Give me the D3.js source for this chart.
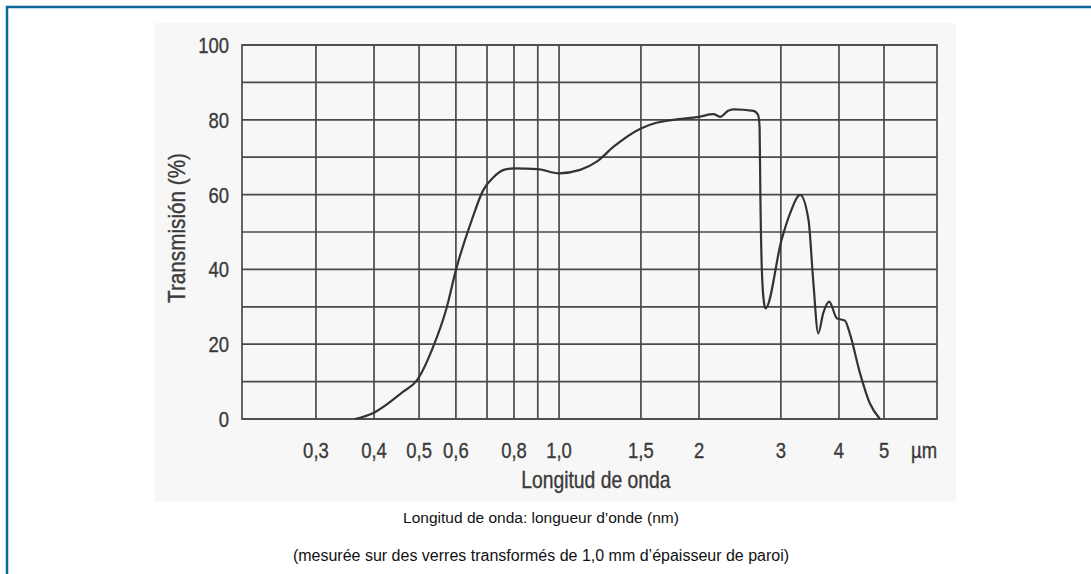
<!DOCTYPE html>
<html>
<head>
<meta charset="utf-8">
<script src="https://cdn.jsdelivr.net/npm/d3@7"></script>
<style>
  body { margin: 0; background: #fff; }
  .narrow { font-family: "Liberation Sans", Arial, sans-serif; fill: #3a3a3a; stroke: #3a3a3a; stroke-width: 0.35px; }
  .caption { font-family: "Liberation Sans", Arial, sans-serif; fill: #111; }
</style>
</head>
<body>
<svg id="viz-container" width="1091" height="574"></svg>
<script>
// transmission curve (wavelength in µm, transmission in %)
var wavelength = [0.364, 0.40, 0.462, 0.495, 0.536, 0.573, 0.60, 0.649, 0.687, 0.721, 0.76, 0.80,
                  0.90, 1.0, 1.11, 1.205, 1.31, 1.5, 1.62, 1.76, 2.0, 2.15, 2.22, 2.31, 2.37, 2.62,
                  2.68, 2.70, 2.71, 2.73, 2.76, 2.78, 3.01, 3.14, 3.30, 3.44, 3.52, 3.61, 3.70,
                  3.81, 3.96, 4.12, 4.22, 4.44, 4.66, 4.90];
var transmission = [0, 1.7, 7.3, 10.4, 19.3, 29.7, 39.8, 53.2, 61.2, 64.5, 66.6, 67.0,
                    66.8, 65.7, 66.6, 68.8, 72.8, 77.7, 79.2, 80.0, 80.8, 81.5, 80.8, 82.4, 82.8, 82.4,
                    81.3, 78, 60, 40, 31, 29.6, 47.9, 55, 59.9, 53.2, 37.2, 22.9, 28.3,
                    31.4, 26.9, 26.3, 22.9, 12.2, 4.2, 0];

var gridX = [0.3, 0.4, 0.5, 0.6, 0.7, 0.8, 0.9, 1.0, 1.5, 2, 3, 4, 5];
var tickX = [0.3, 0.4, 0.5, 0.6, 0.8, 1.0, 1.5, 2, 3, 4, 5];
var gridY = [0, 10, 20, 30, 40, 50, 60, 70, 80, 90, 100];
var tickY = [0, 20, 40, 60, 80, 100];

var svg = d3.select("#viz-container");

// blue frame (runs off the right and bottom of the page)
svg.append("rect")
    .attr("x", 7).attr("y", 7)
    .attr("width", 1200).attr("height", 700)
    .attr("fill", "none")
    .attr("stroke", "#0b6899")
    .attr("stroke-width", 2.5);

// scanned chart panel
svg.append("rect")
    .attr("x", 155).attr("y", 23)
    .attr("width", 801).attr("height", 479)
    .attr("fill", "#f7f7f7");

var margin = {left: 242, top: 45}
  , width = 695
  , height = 374
  , squeeze = 0.84;   // condensed look of the scanned lettering

var x = d3.scaleLog().domain([0.208, 6.5]).range([0, width]);
var y = d3.scaleLinear().domain([0, 100]).range([height, 0]);

var g = svg.append("g")
    .attr("transform", "translate(" + margin.left + "," + margin.top + ")");

var fmt = function(d){ return d < 1 ? d3.format(".1f")(d).replace(".", ",")
                              : (d == 1 ? "1,0" : (d == 1.5 ? "1,5" : String(d))); };

// condensed text helper
function label(parent, px, py, txt, size, anchor, rot) {
  return parent.append("text")
      .attr("class", "narrow")
      .attr("transform", "translate(" + px + "," + py + ")" + (rot ? " rotate(" + rot + ")" : "") +
                         " scale(" + squeeze + ",1)")
      .attr("text-anchor", anchor)
      .style("font-size", size + "px")
      .text(txt);
}

// grid
g.selectAll(".hgrid").data(gridY).enter().append("line")
    .attr("x1", 0).attr("x2", width)
    .attr("y1", function(d){ return y(d); }).attr("y2", function(d){ return y(d); })
    .attr("stroke", "#4a4a4a").attr("stroke-width", 1.7);

g.selectAll(".vgrid").data(gridX).enter().append("line")
    .attr("x1", function(d){ return x(d); }).attr("x2", function(d){ return x(d); })
    .attr("y1", 0).attr("y2", height)
    .attr("stroke", "#4a4a4a").attr("stroke-width", 1.7);

g.append("rect")
    .attr("width", width).attr("height", height)
    .attr("fill", "none")
    .attr("stroke", "#4a4a4a").attr("stroke-width", 1.7);

// tick labels
tickY.forEach(function(d){
  label(g, -13, y(d) + 8, d, 22, "end");
});
tickX.forEach(function(d){
  label(g, x(d), height + 39, fmt(d), 22, "middle");
});
label(g, x(5) + 40, height + 39, "µm", 22, "middle");

// axis titles
label(g, x(1.2), height + 69, "Longitud de onda", 23, "middle");
squeeze = 0.9;
label(svg, 185, 228, "Transmisión (%)", 23, "middle", -90);

// curve
var pts = wavelength.map(function(w, i){ return [w, transmission[i]]; });
var line = d3.line()
    .x(function(d){ return x(d[0]); })
    .y(function(d){ return y(d[1]); })
    .curve(d3.curveMonotoneX);

g.append("path")
    .datum(pts)
    .attr("d", line)
    .attr("fill", "none")
    .attr("stroke", "#333")
    .attr("stroke-width", 2.2)
    .attr("stroke-linejoin", "round");

// captions
svg.append("text")
    .attr("class", "caption")
    .attr("x", 541).attr("y", 523)
    .attr("text-anchor", "middle")
    .style("font-size", "15.5px")
    .text("Longitud de onda: longueur d’onde (nm)");

svg.append("text")
    .attr("class", "caption")
    .attr("x", 541).attr("y", 561)
    .attr("text-anchor", "middle")
    .style("font-size", "16px")
    .text("(mesurée sur des verres transformés de 1,0 mm d’épaisseur de paroi)");
</script>
</body>
</html>
